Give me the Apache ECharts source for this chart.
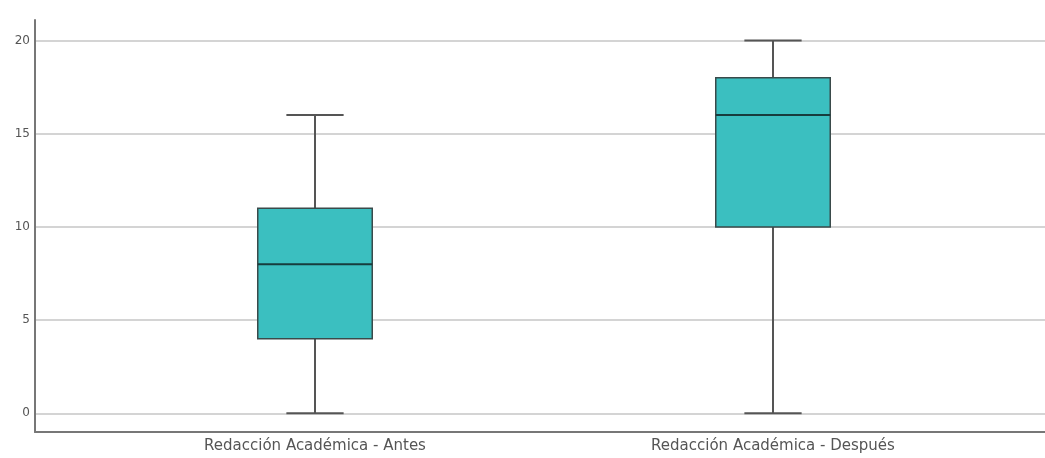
<!DOCTYPE html>
<html>
<head>
<meta charset="utf-8">
<script src="https://cdn.jsdelivr.net/npm/echarts@6/dist/echarts.min.js"></script>
<style>
  html, body { margin: 0; padding: 0; background: #fff; }
  #chart { width: 1045px; height: 458px; }
</style>
</head>
<body>
<div id="chart"></div>
<script>
// datos
const categories = ['Redacción Académica - Antes', 'Redacción Académica - Después'];
const mins = [0, 0];
const q1s = [4, 10];
const medians = [8, 16];
const q3s = [11, 18];
const maxs = [16, 20];
const yTicks = [0, 5, 10, 15, 20];

const boxData = categories.map((c, i) => [i, mins[i], q1s[i], medians[i], q3s[i], maxs[i]]);

const boxColor = '#3bbfc0';

function renderBox (params, api) {
  const x = api.value(0);
  const pMin = api.coord([x, api.value(1)]);
  const pQ1 = api.coord([x, api.value(2)]);
  const pMed = api.coord([x, api.value(3)]);
  const pQ3 = api.coord([x, api.value(4)]);
  const pMax = api.coord([x, api.value(5)]);
  const band = api.size([1, 0])[0];
  const half = band * 0.125;
  const cap = band * 0.0625;
  const cx = pMed[0];
  const whisker = { stroke: '#555', lineWidth: 2 };
  return {
    type: 'group',
    children: [
      { type: 'line', shape: { x1: cx, y1: pMax[1], x2: cx, y2: pQ3[1] }, style: whisker },
      { type: 'line', shape: { x1: cx, y1: pQ1[1], x2: cx, y2: pMin[1] }, style: whisker },
      { type: 'line', shape: { x1: cx - cap, y1: pMax[1], x2: cx + cap, y2: pMax[1] }, style: whisker },
      { type: 'line', shape: { x1: cx - cap, y1: pMin[1], x2: cx + cap, y2: pMin[1] }, style: whisker },
      {
        type: 'rect',
        shape: { x: cx - half, y: pQ3[1], width: half * 2, height: pQ1[1] - pQ3[1] },
        style: { fill: boxColor, stroke: '#3a4a4a', lineWidth: 1.5 }
      },
      { type: 'line', shape: { x1: cx - half, y1: pMed[1], x2: cx + half, y2: pMed[1] }, style: { stroke: '#173c3d', lineWidth: 2 } }
    ]
  };
}

const chart = echarts.init(document.getElementById('chart'));
chart.setOption({
  animation: false,
  backgroundColor: '#fff',
  textStyle: { fontFamily: 'DejaVu Sans' },
  grid: [
    { left: 35, right: 0, top: 20, bottom: 26 },
    { left: 86, right: 43, top: 20, bottom: 26 }
  ],
  xAxis: [
    {
      gridIndex: 0,
      type: 'value',
      min: 0,
      max: 1,
      axisLine: { show: true, onZero: false, lineStyle: { color: '#777', width: 2 } },
      axisTick: { show: false },
      axisLabel: { show: false },
      splitLine: { show: false }
    },
    {
      gridIndex: 1,
      type: 'category',
      data: categories,
      axisLine: { show: false },
      axisTick: { show: false },
      axisLabel: { color: '#555', fontSize: 15, margin: 7 },
      splitLine: { show: false }
    }
  ],
  yAxis: [
    {
      gridIndex: 0,
      type: 'value',
      min: -1,
      max: 21.1,
      axisLine: { show: true, onZero: false, lineStyle: { color: '#777', width: 2 } },
      axisTick: { show: false, customValues: yTicks },
      axisLabel: { customValues: yTicks, color: '#555', fontSize: 12, margin: 5 },
      splitLine: { show: true, lineStyle: { color: '#d4d4d4', width: 2 } }
    },
    {
      gridIndex: 1,
      type: 'value',
      min: -1,
      max: 21.1,
      show: false
    }
  ],
  series: [
    {
      type: 'custom',
      xAxisIndex: 1,
      yAxisIndex: 1,
      renderItem: renderBox,
      encode: { x: 0, y: [1, 2, 3, 4, 5] },
      data: boxData
    }
  ]
});
</script>
</body>
</html>
